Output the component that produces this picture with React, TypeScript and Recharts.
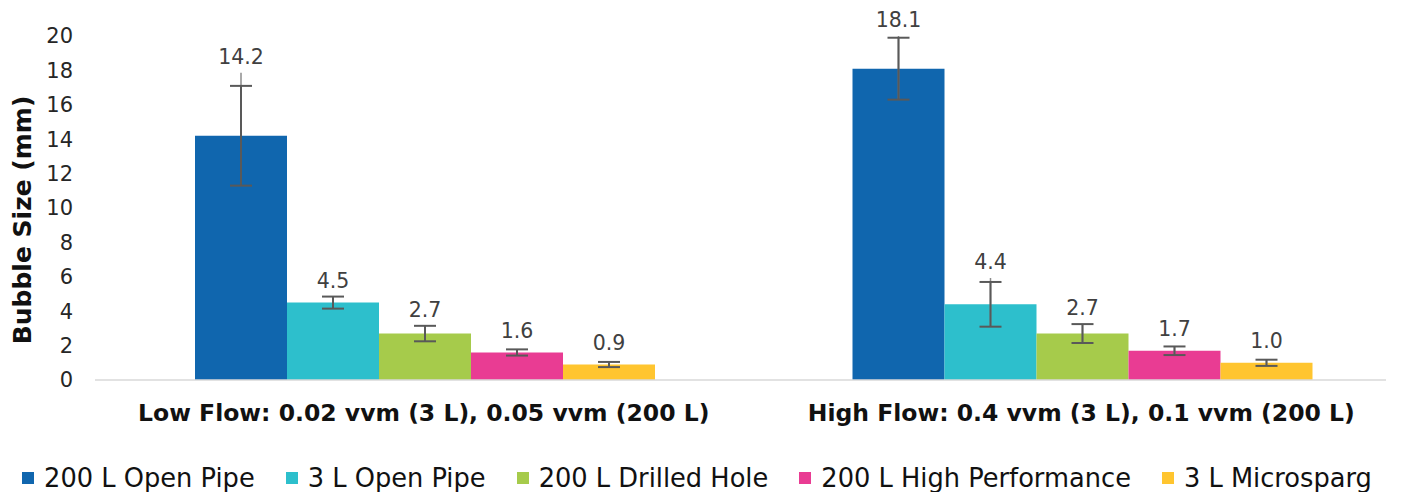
import { BarChart, Bar, XAxis, YAxis, ErrorBar, LabelList, Legend } from 'recharts';

const categories = [
    'Low Flow: 0.02 vvm (3 L), 0.05 vvm (200 L)',
    'High Flow: 0.4 vvm (3 L), 0.1 vvm (200 L)',
];

const seriesNames = [
    '200 L Open Pipe',
    '3 L Open Pipe',
    '200 L Drilled Hole',
    '200 L High Performance',
    '3 L Microsparg',
];

const colors = ['#1066AE', '#2DBFCC', '#A6CB4B', '#E93C93', '#FFC52F'];

// bubble size (mm) per series, one value per flow category
const openPipe200 = [14.2, 18.1];
const openPipe3 = [4.5, 4.4];
const drilledHole200 = [2.7, 2.7];
const highPerf200 = [1.6, 1.7];
const microsparg3 = [0.9, 1.0];

// error bar (caps), +/- mm
const errOpenPipe200 = [2.9, 1.8];
const errOpenPipe3 = [0.35, 1.3];
const errDrilledHole200 = [0.45, 0.55];
const errHighPerf200 = [0.18, 0.25];
const errMicrosparg3 = [0.15, 0.18];

// upper end of the whisker line (it runs past the cap on some bars)
const whiskOpenPipe200 = [3.66, 1.9];
const whiskOpenPipe3 = [0.35, 1.53];
const whiskDrilledHole200 = [0.45, 0.55];
const whiskHighPerf200 = [0.18, 0.25];
const whiskMicrosparg3 = [0.15, 0.18];

const yTicks = [0, 2, 4, 6, 8, 10, 12, 14, 16, 18, 20];

const values = [openPipe200, openPipe3, drilledHole200, highPerf200, microsparg3];
const errors = [errOpenPipe200, errOpenPipe3, errDrilledHole200, errHighPerf200, errMicrosparg3];
const whiskers = [whiskOpenPipe200, whiskOpenPipe3, whiskDrilledHole200, whiskHighPerf200, whiskMicrosparg3];

const data = categories.map((name, i) => {
    const row: any = { name };
    values.forEach((v, s) => {
        row['s' + s] = v[i];
        row['e' + s] = errors[s][i];
        row['w' + s] = [errors[s][i], whiskers[s][i]];
    });
    return row;
});

const FONT = '"DejaVu Sans", Verdana, sans-serif';

const renderLabel = (s: number) => (props: any) => {
    const { x, y, width, height, value, index } = props;
    const v = Number(value);
    const px = v ? height / v : 0;
    const cy = Math.min(y - 22, y - whiskers[s][index] * px - 16);
    return (
        <text x={x + width / 2} y={cy} dy="0.35em" textAnchor="middle" fontSize={20.5} fill="#404040" fontFamily={FONT}>
            {v.toFixed(1)}
        </text>
    );
};

const CategoryTick = (props: any) => {
    const { x, y, payload } = props;
    return (
        <text x={x} y={y + 41} textAnchor="middle" fontSize={23.5} fontWeight="bold" fill="#111" fontFamily={FONT}>
            {payload.value}
        </text>
    );
};

const YTitle = (props: any) => {
    const { viewBox } = props;
    const cx = 14;
    const cy = viewBox.y + viewBox.height / 2 + 12;
    return (
        <text x={cx} y={cy} transform={`rotate(-90, ${cx}, ${cy})`} textAnchor="middle" dy="0.35em"
            fontSize={25} fontWeight="bold" fill="#111" fontFamily={FONT}>
            Bubble Size (mm)
        </text>
    );
};

const LegendContent = () => (
    <div style={{ height: 40, boxSizing: 'border-box', paddingTop: 12, display: 'flex', justifyContent: 'center', alignItems: 'center', gap: 31, fontFamily: FONT, fontSize: 25.7, color: '#111' }}>
        {seriesNames.map((n, s) => (
            <div key={n} style={{ display: 'flex', alignItems: 'center', whiteSpace: 'nowrap' }}>
                <span style={{ width: 12, height: 12, background: colors[s], marginRight: 10, display: 'inline-block' }} />
                <span>{n}</span>
            </div>
        ))}
    </div>
);

export default function App() {
    return (
        <div style={{ width: 1393, height: 484 }}>
            <style>{'html, body { overflow: hidden; }'}</style>
            <BarChart
                width={1393}
                height={484}
                data={data}
                margin={{ top: 28, right: 15, left: 0, bottom: 0 }}
                barCategoryGap={100}
                barGap={0}
            >
                <XAxis
                    dataKey="name"
                    padding={{ left: 0, right: -24 }}
                    tickLine={false}
                    tickSize={0}
                    tickMargin={0}
                    height={72}
                    axisLine={{ stroke: '#d9d9d9', strokeWidth: 1.5 }}
                    tick={<CategoryTick />}
                    interval={0}
                />
                <YAxis
                    domain={[0, 20]}
                    ticks={yTicks}
                    width={87}
                    axisLine={false}
                    tickLine={false}
                    tickSize={0}
                    tickMargin={22}
                    tick={{ fontSize: 21, fill: '#262626', fontFamily: FONT }}
                    label={<YTitle />}
                    interval={0}
                />
                <Legend verticalAlign="bottom" height={40} content={<LegendContent />} />
                {seriesNames.map((n, s) => (
                    <Bar key={n} dataKey={'s' + s} name={n} fill={colors[s]} isAnimationActive={false}>
                        <ErrorBar dataKey={'w' + s} width={0} stroke="#8c8c8c" strokeWidth={1.5} />
                        <ErrorBar dataKey={'e' + s} width={11} stroke="#595959" strokeWidth={2} />
                        <LabelList dataKey={'s' + s} content={renderLabel(s)} />
                    </Bar>
                ))}
            </BarChart>
        </div>
    );
}
